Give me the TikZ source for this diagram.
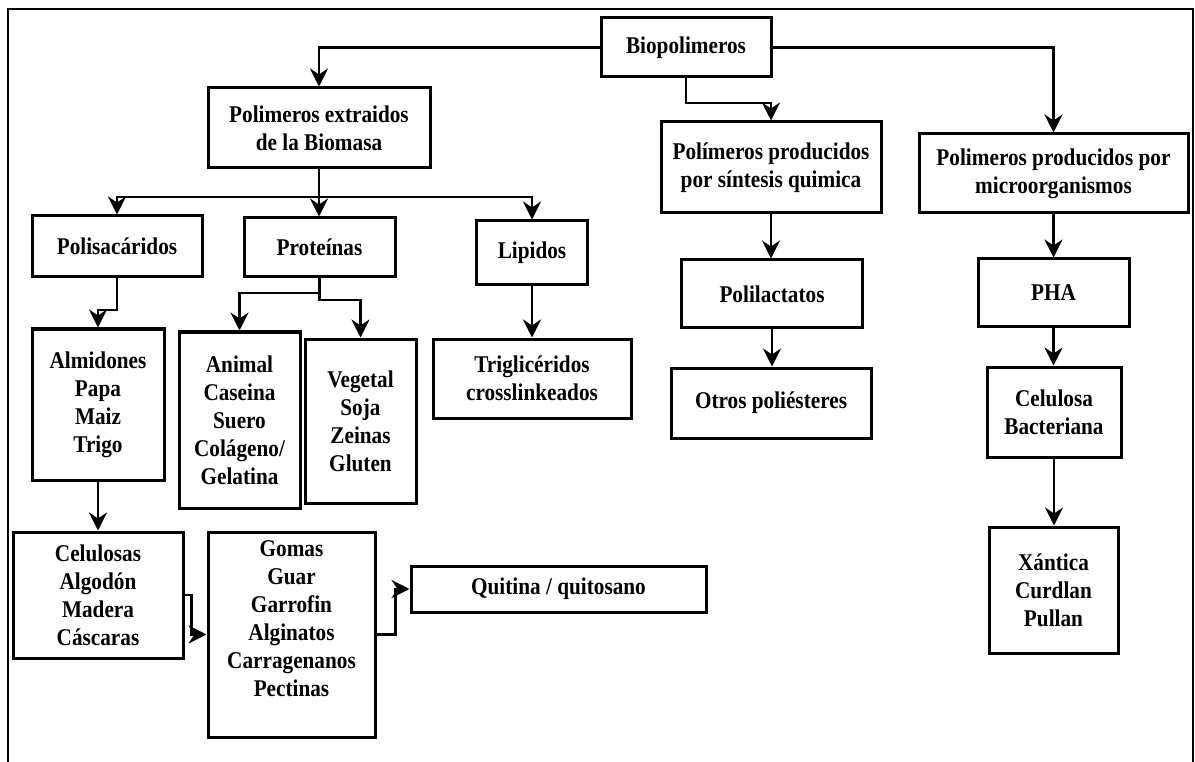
\documentclass[tikz,border=0pt]{standalone}
\usepackage{fontspec}
\setmainfont{Liberation Serif}[FakeStretch=0.885]
\usetikzlibrary{arrows.meta}
\begin{document}
\begin{tikzpicture}[x=1pt,y=-1pt,
  box/.style={draw, line width=3pt, inner sep=0pt, align=center,
    font=\bfseries\fontsize{24}{28}\selectfont},
  txt/.style={inner sep=0pt, align=center,
    font=\bfseries\fontsize{24}{28}\selectfont},
  conn/.style={line width=2.8pt},
  arr/.style={conn, -{Stealth[length=18pt,width=18pt,inset=6pt]}},
  frame/.style={line width=1.6pt}]
\useasboundingbox (0,0) rectangle (1195,762);
% outer frame
\draw[frame] (8,775) -- (8,9) -- (1193,9) -- (1193,775);

% top level
\node[box, minimum width=170, minimum height=59] (bio) at (686,47.5) {Biopolimeros};
\node[box, minimum width=222, minimum height=80] (ext) at (319,128) {Polimeros extraidos\\de la Biomasa};
\node[box, minimum width=220, minimum height=91] (sin) at (771,167.5) {Polímeros producidos\\por síntesis quimica};
\node[box, minimum width=269, minimum height=79] (mic) at (1053.5,173.5) {Polimeros producidos por\\microorganismos};

% second level
\node[box, minimum width=170, minimum height=61] (pol) at (117,246.5) {Polisacáridos};
\node[box, minimum width=151, minimum height=59] (pro) at (319.5,247.5) {Proteínas};
\node[box, minimum width=111, minimum height=64] (lip) at (532,253) {Lipidos};
\node[box, minimum width=181, minimum height=68] (pla) at (772,294) {Polilactatos};
\node[box, minimum width=151, minimum height=68] (pha) at (1053.5,293) {PHA};

% third level
\node[box, minimum width=132, minimum height=151] (alm) at (98,404.5) {Almidones\\Papa\\Maiz\\Trigo};
\node[box, minimum width=121, minimum height=176] (ani) at (239.5,420) {Animal\\Caseina\\Suero\\Colágeno/\\Gelatina};
\node[box, minimum width=111, minimum height=164] (veg) at (360.5,421) {Vegetal\\Soja\\Zeinas\\Gluten};
\node[box, minimum width=198, minimum height=79] (tri) at (532,378.5) {Triglicéridos\\crosslinkeados};
\node[box, minimum width=200, minimum height=70] (otr) at (771,403) {Otros poliésteres};
\node[box, minimum width=134, minimum height=90] (cba) at (1054,412) {Celulosa\\Bacteriana};

% bottom level
\node[box, minimum width=170, minimum height=126] (cel) at (98,595) {Celulosas\\Algodón\\Madera\\Cáscaras};
\node[box, minimum width=167, minimum height=205] (gom) at (291.5,634.5) {};
\node[txt, anchor=north] (gomtxt) at (291.5,540) {Gomas\\Guar\\Garrofin\\Alginatos\\Carragenanos\\Pectinas};
\node[box, minimum width=295, minimum height=46] (qui) at (558.5,589) {Quitina / quitosano};
\node[box, minimum width=129, minimum height=126] (xan) at (1053.5,590) {Xántica\\Curdlan\\Pullan};

% connectors from the root
\draw[arr] (bio.west) -| (ext.north);
\draw[arr] (bio.south) -- (bio.south |- 0,103) -| (sin.north);
\draw[arr] (bio.east) -| (mic.north);

% biomass branches
\coordinate (split) at (ext.south |- 0,197);
\draw[arr] (ext.south) -- (split) -| (pol.north);
\draw[arr] (split) -- (split |- pro.north);
\draw[arr] (split) -| (lip.north);

\draw[arr] (pol.south) -- (pol.south |- 0,310) -| (alm.north);
\draw[arr] (pro.south) -- (pro.south |- 0,293) -| (ani.north);
\draw[arr] (pro.south) -- (pro.south |- 0,300) -| (veg.north);
\draw[arr] (lip.south) -- (lip.south |- tri.north);
\draw[arr] (alm.south) -- (alm.south |- cel.north);
\draw[arr] (cel.east) -- ++(7,0) |- (gom.west);
\draw[arr] (gom.east) -- ++(19,0) |- (qui.west);

% chemical synthesis branch
\draw[arr] (sin.south) -- (sin.south |- pla.north);
\draw[arr] (pla.south) -- (pla.south |- otr.north);

% microorganism branch
\draw[arr] (mic.south) -- (mic.south |- pha.north);
\draw[arr] (pha.south) -- (pha.south |- cba.north);
\draw[arr] (cba.south) -- (cba.south |- xan.north);
\end{tikzpicture}
\end{document}
